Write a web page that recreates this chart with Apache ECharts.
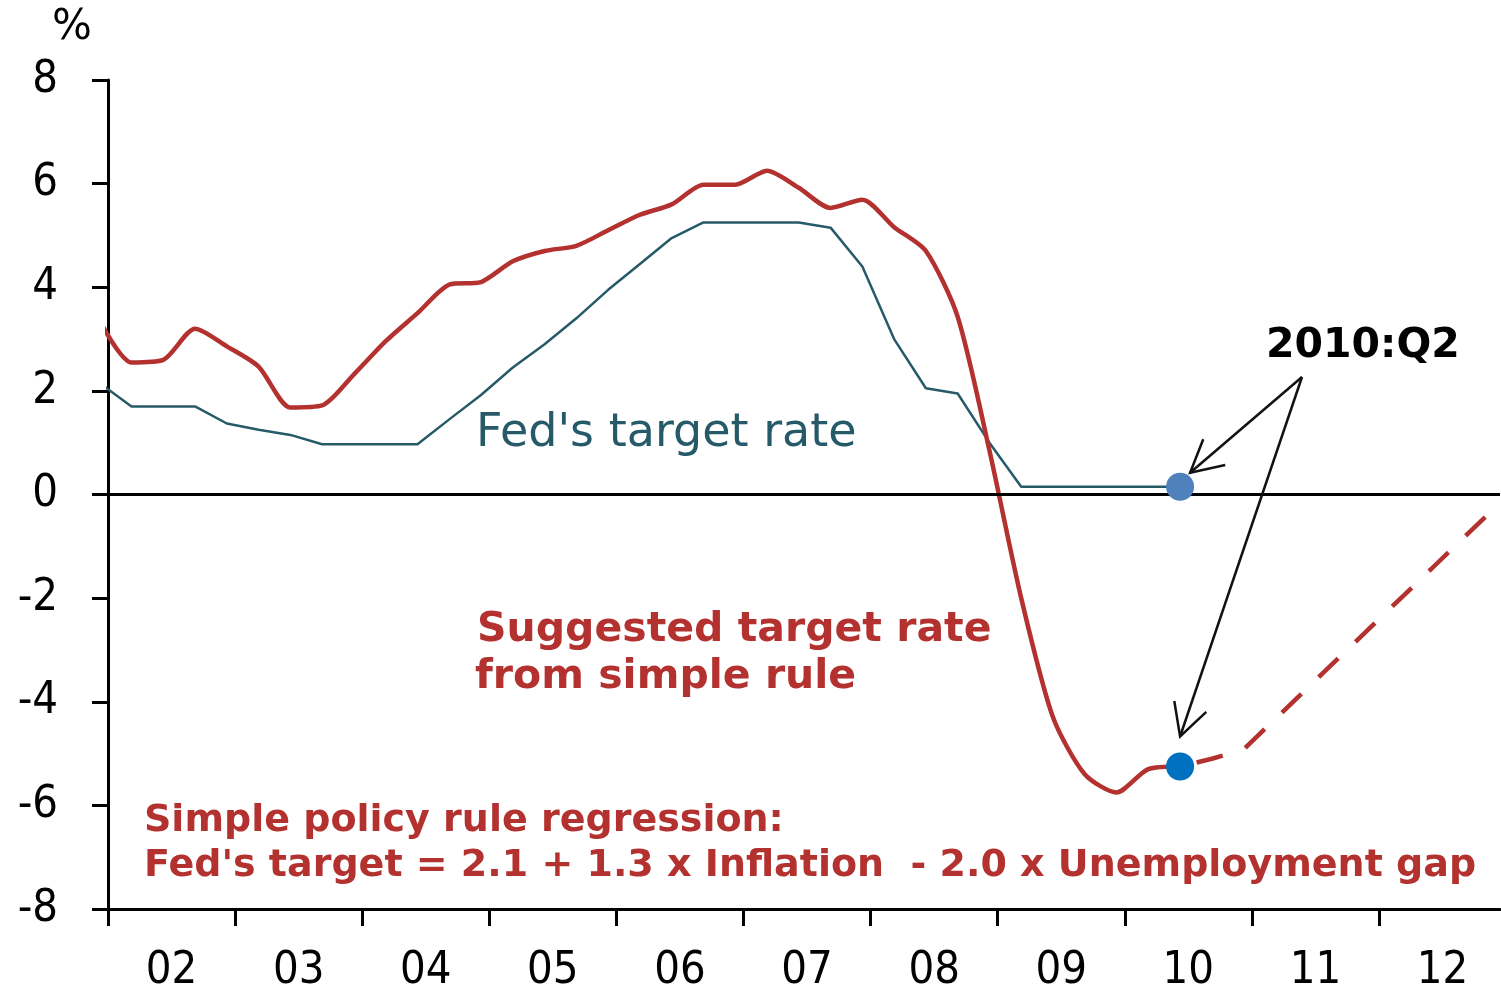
<!DOCTYPE html>
<html><head><meta charset="utf-8">
<script src="https://cdn.jsdelivr.net/npm/echarts@6/dist/echarts.min.js"></script>
<style>html,body{margin:0;padding:0;background:#fff}#c{width:1501px;height:992px}</style>
</head><body><div id="c"></div>
<script>
// ---- data (quarterly, %) ----
const quarters = ['2001Q4',
 '2002Q1','2002Q2','2002Q3','2002Q4','2003Q1','2003Q2','2003Q3','2003Q4',
 '2004Q1','2004Q2','2004Q3','2004Q4','2005Q1','2005Q2','2005Q3','2005Q4',
 '2006Q1','2006Q2','2006Q3','2006Q4','2007Q1','2007Q2','2007Q3','2007Q4',
 '2008Q1','2008Q2','2008Q3','2008Q4','2009Q1','2009Q2','2009Q3','2009Q4',
 '2010Q1','2010Q2'];
const fedTarget = [2.15,
 1.7, 1.7, 1.7, 1.37, 1.25, 1.15, 0.97, 0.97,
 0.97, 0.97, 1.45, 1.92, 2.45, 2.9, 3.4, 3.95,
 4.45, 4.95, 5.25, 5.25, 5.25, 5.25, 5.15, 4.4,
 3.0, 2.05, 1.95, 1.0, 0.15, 0.15, 0.15, 0.15,
 0.15, 0.15];
const ruleRate = [3.35,
 2.55, 2.6, 3.2, 2.86, 2.47, 1.68, 1.72, 2.32,
 2.96, 3.5, 4.05, 4.1, 4.5, 4.7, 4.8, 5.1,
 5.4, 5.6, 5.98, 5.98, 6.25, 5.92, 5.53, 5.69,
 5.16, 4.7, 3.43, 0.85, -2.0, -4.3, -5.4, -5.75,
 -5.3, -5.25];
const projQuarters = ['2010Q2','2010Q3','2010Q4','2011Q1','2011Q2','2011Q3','2011Q4',
 '2012Q1','2012Q2','2012Q3','2012Q4'];
const ruleProjection = [-5.25, -5.1, -4.92, -4.33, -3.74, -3.15, -2.56, -1.97, -1.38, -0.79, -0.2];
const highlightQuarter = '2010Q2';
const yearTicks = [2002,2003,2004,2005,2006,2007,2008,2009,2010,2011,2012];
const yearLabels = ['02','03','04','05','06','07','08','09','10','11','12'];

// ---- helpers ----
const Q_OFFSET = 0.185; // where a quarter's point sits within the year
function qx(label){ const y=+label.slice(0,4), q=+label.slice(5); return y+(q-1)/4+Q_OFFSET; }
const pairs = (qs, vs) => qs.map((q,i)=>[qx(q), vs[i]]);
const hiIdx = quarters.indexOf(highlightQuarter);

const FONT_C = '"DejaVu Sans Condensed", "DejaVu Sans", sans-serif';
const FONT = '"DejaVu Sans", sans-serif';
const RED = '#B3312E', TEAL = '#275A69';
const RED_W = 4.5;

const chart = echarts.init(document.getElementById('c'), null, {renderer:'canvas'});
const option = {
  animation:false,
  backgroundColor:'#fff',
  grid:{left:108, top:80, width:1392, height:829, containLabel:false, outerBoundsMode:'none'},
  xAxis:{
    type:'value', min:2002, max:2012.952,
    axisLine:{show:true, onZero:false, lineStyle:{color:'#000', width:3}},
    axisTick:{show:true, customValues:yearTicks, length:17, lineStyle:{color:'#000', width:3}},
    axisLabel:{customValues:yearTicks.map(y=>y+0.5), margin:40,
      formatter:v=>yearLabels[yearTicks.indexOf(Math.floor(v))] || '',
      color:'#000', fontSize:45, fontFamily:FONT_C},
    splitLine:{show:false}
  },
  yAxis:{
    type:'value', min:-8, max:8, interval:2,
    axisLine:{show:true, onZero:false, lineStyle:{color:'#000', width:3}},
    axisTick:{show:true, length:16, lineStyle:{color:'#000', width:3}},
    axisLabel:{margin:50, color:'#000', fontSize:45, fontFamily:FONT_C},
    splitLine:{show:false}
  },
  series:[
    {type:'line', name:"Fed's target rate", data:pairs(quarters, fedTarget), showSymbol:false,
     lineStyle:{color:TEAL, width:2.5}, z:2,
     markLine:{silent:true, symbol:'none', label:{show:false},
       lineStyle:{color:'#000', width:3, type:'solid'}, data:[{yAxis:0}]}},
    {type:'line', name:'Suggested target rate', data:pairs(quarters, ruleRate), showSymbol:false,
     smooth:0.25, lineStyle:{color:RED, width:RED_W}, z:3},
    {type:'line', name:'Projection', data:pairs(projQuarters, ruleProjection), showSymbol:false,
     lineStyle:{color:RED, width:RED_W, type:[27,24], dashOffset:34}, z:3},
    {type:'scatter', data:[[qx(highlightQuarter), fedTarget[hiIdx]]], symbolSize:28,
     itemStyle:{color:'#4F81BD', opacity:1}, z:5},
    {type:'scatter', data:[[qx(highlightQuarter), ruleRate[hiIdx]]], symbolSize:28,
     itemStyle:{color:'#0070C0', opacity:1}, z:5}
  ]
};
chart.setOption(option);

// ---- annotations ----
function arrow(o, t){
  const ang = Math.atan2(o[1]-t[1], o[0]-t[0]), L=36, h=28*Math.PI/180;
  const a1=[t[0]+L*Math.cos(ang+h), t[1]+L*Math.sin(ang+h)];
  const a2=[t[0]+L*Math.cos(ang-h), t[1]+L*Math.sin(ang-h)];
  return [
    {type:'polyline', shape:{points:[o,t]}, style:{stroke:'#111', lineWidth:2.5, fill:null}, z:10},
    {type:'polyline', shape:{points:[a1,t,a2]}, style:{stroke:'#111', lineWidth:2.5, fill:null}, z:10}
  ];
}
const p1 = chart.convertToPixel({gridIndex:0}, [qx(highlightQuarter), fedTarget[hiIdx]]);
const p2 = chart.convertToPixel({gridIndex:0}, [qx(highlightQuarter), ruleRate[hiIdx]]);
const origin = [1302, 377];
const txt = (text, x, y, size, color, bold, fam) => ({type:'text', z:10,
  style:{text, x, y, fill:color, font:(bold?'bold ':'')+size+'px '+(fam||FONT), verticalAlign:'middle', align:'left'}});
chart.setOption({graphic:[
  txt('%', 52, 28, 42, '#000', false),
  txt("Fed's target rate", 476, 434, 46, TEAL, false),
  txt('2010:Q2', 1266, 346, 41, '#000', true),
  txt('Suggested target rate', 477, 630, 41, RED, true),
  txt('from simple rule', 475, 677, 41, RED, true),
  txt('Simple policy rule regression:', 144, 821, 38, RED, true),
  txt("Fed's target = 2.1 + 1.3 x Inflation  - 2.0 x Unemployment gap", 144, 866, 38, RED, true),
  ...arrow(origin, [p1[0]+10, p1[1]-14]),
  ...arrow(origin, [p2[0], p2[1]-30])
]});
</script>
</body></html>
